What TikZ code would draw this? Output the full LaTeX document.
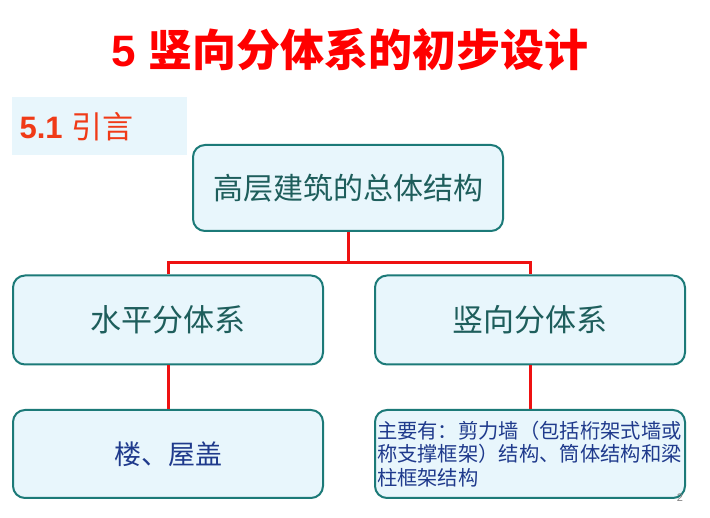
\documentclass[tikz,border=0pt]{standalone}
\usepackage{fontspec}
\setmainfont{Liberation Sans}
\newfontfamily\cjk{Noto Sans CJK SC}
\XeTeXlinebreaklocale "zh"
\XeTeXlinebreakskip=0pt plus 1pt
\usetikzlibrary{positioning}
\definecolor{boxline}{HTML}{1C7A78}
\definecolor{boxfill}{HTML}{E8F6FC}
\definecolor{tealtext}{HTML}{1E5E5C}
\definecolor{bluetext}{HTML}{1F3A8C}
\definecolor{linkred}{HTML}{EE1111}
\definecolor{headred}{HTML}{F03A17}
\tikzset{
  unit/.style={draw=boxline,line width=2pt,fill=boxfill,rounded corners=12pt,
    minimum width=310pt,minimum height=88pt,inner sep=4pt},
  link/.style={draw=linkred,line width=3pt}
}
\begin{document}
\begin{tikzpicture}[x=1pt,y=-1pt]
\useasboundingbox (0,0) rectangle (710,518);

% Title
\node[text=red,font=\bfseries\fontsize{44}{50}\selectfont] (title) at (350,50) {5 {\cjk 竖向分体系的初步设计}};
\fill[boxfill] (12,97) rectangle (187,155);
\node[text=headred,anchor=west,font=\bfseries\fontsize{31}{36}\selectfont] (sec) at (16,127) {5.1 {\cjk\mdseries 引言}};

% Nodes
\node[unit,minimum height=86pt,text=tealtext,font=\cjk\fontsize{30}{34}\selectfont] (whole) at (348,188) {高层建筑的总体结构};
\node[unit,minimum height=89pt,text=tealtext,font=\cjk\fontsize{31}{36}\selectfont] (horiz) at (168,320) {水平分体系};
\node[unit,minimum height=89pt,text=tealtext,font=\cjk\fontsize{31}{36}\selectfont] (vert) at (530,320) {竖向分体系};
\node[unit,text=bluetext,font=\cjk\fontsize{27}{32}\selectfont] (floor) at (168,454) {楼、屋盖};
\node[unit,text=bluetext,align=left,text width=306pt,inner sep=2pt,font=\cjk\fontsize{20.3}{23.5}\selectfont] (walls) at (530,454) {主要有：剪力墙（包括桁架式墙或称支撑框架）结构、筒体结构和梁柱框架结构};

% Links
\draw[link] (whole.south) -- ++(0,31) -| (horiz.north);
\draw[link] (whole.south) ++(0,31) -| (vert.north);
\draw[link] (horiz) -- (floor);
\draw[link] (vert) -- (walls);

\node[text=gray,font=\fontsize{11}{12}\selectfont] (page) at (680,498) {2};
\end{tikzpicture}
\end{document}
